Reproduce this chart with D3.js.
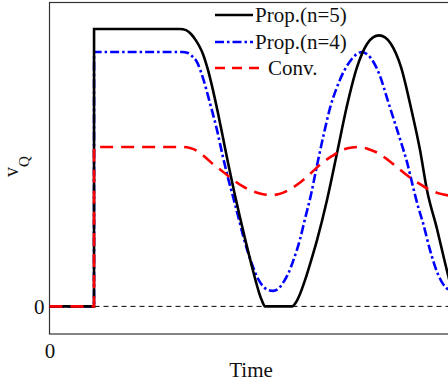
<!DOCTYPE html>
<html>
<head>
<meta charset="utf-8">
<script src="https://cdn.jsdelivr.net/npm/d3@7"></script>
<style>
html,body{margin:0;padding:0;background:#fff;}
svg{display:block;}
text{font-family:"Liberation Serif","Times New Roman",serif;fill:#111;}
</style>
</head>
<body>
<svg id="chart" width="448" height="387"></svg>
<script>
// ---- data (time in arbitrary units, vQ normalised) ----
const seriesNames = ["Prop.(n=5)", "Prop.(n=4)", "Conv."];
const xTickLabels = ["0"];
const yTickLabels = ["0"];

const propN5T = [0, 11.13, 11.14, 32.63, 34.13, 35.38, 36.63, 37.63, 38.38, 39.63, 40.88, 42.13, 43.38, 44.63, 46.13, 47.63, 49.13, 50.63, 51.63, 52.38, 53.13, 53.88, 60.63, 61.63, 62.63, 63.88, 65.38, 66.88, 69.38, 71.88, 74.38, 76.88, 79.38, 80.88, 82.38, 83.88, 85.38, 87.88, 90.38, 92.63, 94.38, 96.88, 98.88, 100];
const propN5V = [0, 0, 1.004, 1.004, 1.0, 0.986, 0.962, 0.937, 0.913, 0.855, 0.782, 0.699, 0.610, 0.520, 0.418, 0.322, 0.230, 0.143, 0.088, 0.050, 0.020, 0, 0, 0.015, 0.045, 0.095, 0.165, 0.240, 0.385, 0.555, 0.727, 0.866, 0.950, 0.974, 0.981, 0.974, 0.950, 0.866, 0.718, 0.566, 0.420, 0.280, 0.158, 0.092];

const propN4T = [0, 11.13, 11.14, 33.13, 34.63, 35.63, 36.88, 38.38, 40.13, 41.88, 43.38, 44.63, 45.88, 47.13, 48.38, 49.63, 50.88, 52.13, 53.38, 54.63, 55.88, 57.13, 58.38, 59.63, 60.88, 62.63, 63.88, 65.38, 66.88, 68.63, 70.13, 71.88, 73.63, 75.38, 76.88, 78.13, 79.63, 81.13, 82.63, 84.38, 86.13, 87.88, 89.38, 90.88, 92.13, 93.38, 95.13, 96.88, 98.13, 99.13, 100];
const propN4V = [0, 0, 0.921, 0.921, 0.917, 0.906, 0.884, 0.826, 0.735, 0.638, 0.540, 0.465, 0.397, 0.328, 0.257, 0.195, 0.143, 0.100, 0.073, 0.059, 0.056, 0.063, 0.085, 0.117, 0.163, 0.243, 0.317, 0.405, 0.511, 0.627, 0.718, 0.794, 0.852, 0.892, 0.914, 0.921, 0.910, 0.881, 0.834, 0.754, 0.674, 0.594, 0.522, 0.433, 0.362, 0.302, 0.204, 0.125, 0.087, 0.068, 0.059];

const convT = [0, 11.13, 11.14, 33.38, 35.13, 36.88, 38.88, 40.88, 43.13, 45.63, 48.13, 50.63, 53.13, 55.63, 58.13, 60.63, 63.13, 65.63, 68.13, 70.63, 73.13, 75.63, 77.63, 79.63, 82.13, 84.63, 87.13, 89.63, 92.13, 94.63, 97.13, 100];
const convV = [0, 0, 0.577, 0.577, 0.573, 0.563, 0.541, 0.515, 0.490, 0.461, 0.436, 0.418, 0.407, 0.403, 0.410, 0.428, 0.454, 0.486, 0.519, 0.544, 0.566, 0.575, 0.577, 0.570, 0.555, 0.530, 0.501, 0.472, 0.447, 0.425, 0.410, 0.401];

const seriesColors = ["#000000", "#0000ff", "#ff0000"];
const FONT = "Liberation Serif";

// ---- chart ----
const svg = d3.select("#chart");
const x = d3.scaleLinear().domain([0, 100]).range([49.5, 449.5]);
const y = d3.scaleLinear().domain([-0.1, 1.1]).range([334, 2.5]);

// frame
svg.append("rect")
  .attr("x", x(0)).attr("y", y(1.1))
  .attr("width", x(100) - x(0) + 2).attr("height", y(-0.1) - y(1.1))
  .attr("fill", "none").attr("stroke", "#333").attr("stroke-width", 1.2);

// zero reference line
svg.append("line")
  .attr("x1", x(0)).attr("x2", x(100) + 2)
  .attr("y1", y(0)).attr("y2", y(0))
  .attr("stroke", "#000").attr("stroke-width", 1).attr("stroke-dasharray", "5,4");

// axes
const xAxis = svg.append("g").attr("transform", `translate(0,${y(-0.1)})`)
  .call(d3.axisBottom(x).tickValues([0]).tickFormat((d, i) => xTickLabels[i]).tickSize(0).tickPadding(9));
xAxis.select(".domain").remove();
xAxis.attr("font-family", FONT);
xAxis.selectAll("text").attr("font-size", 21).attr("font-family", FONT).attr("fill", "#111");

const yAxis = svg.append("g").attr("transform", `translate(${x(0)},0)`)
  .call(d3.axisLeft(y).tickValues([0]).tickFormat((d, i) => yTickLabels[i]).tickSize(0).tickPadding(5));
yAxis.select(".domain").remove();
yAxis.attr("font-family", FONT);
yAxis.selectAll("text").attr("font-size", 21).attr("font-family", FONT).attr("fill", "#111");

// axis titles
svg.append("text").attr("x", 251).attr("y", 377).attr("text-anchor", "middle")
  .attr("font-family", FONT).attr("font-size", 21).text("Time");

const yt = svg.append("text").attr("transform", "translate(18,177) rotate(-90)").attr("font-family", FONT);
yt.append("tspan").attr("font-size", 20).text("v");
yt.append("tspan").attr("font-size", 15).attr("dy", 11).text("Q");

// lines
const line = d3.line().x(d => x(d[0])).y(d => y(d[1])).curve(d3.curveMonotoneX);
const zip = (a, b) => a.map((t, i) => [t, b[i]]);

const defs = [
  {t: propN4T, v: propN4V, color: seriesColors[1], dash: "9,3,2.5,3"},
  {t: propN5T, v: propN5V, color: seriesColors[0], dash: null},
  {t: convT, v: convV, color: seriesColors[2], dash: "13,8"}
];
defs.forEach(s => {
  svg.append("path").datum(zip(s.t, s.v))
    .attr("d", line)
    .attr("fill", "none")
    .attr("stroke", s.color)
    .attr("stroke-width", 2.6)
    .attr("stroke-dasharray", s.dash);
});

// legend
const legend = [
  {name: seriesNames[0], color: seriesColors[0], dash: null, y: 15, x2: 253, tx: 255},
  {name: seriesNames[1], color: seriesColors[1], dash: "9,3,2.5,3", y: 42, x2: 253, tx: 255},
  {name: seriesNames[2], color: seriesColors[2], dash: "10,7", y: 68, x2: 264, tx: 268}
];
legend.forEach(l => {
  svg.append("line").attr("x1", 215).attr("x2", l.x2).attr("y1", l.y).attr("y2", l.y)
    .attr("stroke", l.color).attr("stroke-width", 2.6).attr("stroke-dasharray", l.dash);
  svg.append("text").attr("x", l.tx).attr("y", l.y + 7).attr("font-family", FONT)
    .attr("font-size", 21).text(l.name);
});
</script>
</body>
</html>
